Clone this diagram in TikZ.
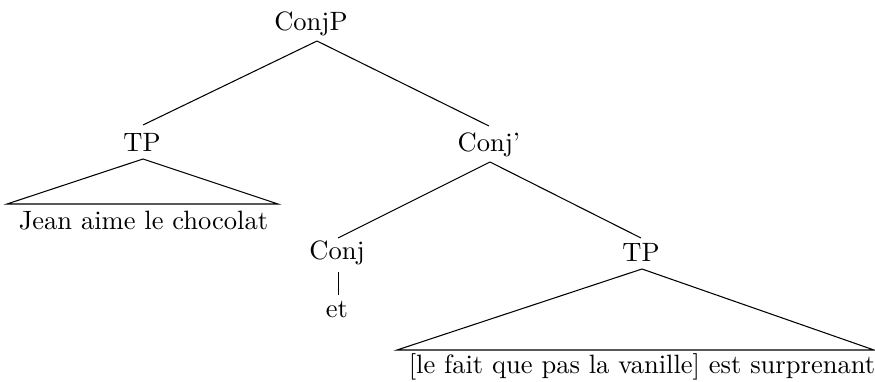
\documentclass[tikz,border=0pt]{standalone}
\begin{document}
\begin{tikzpicture}[x=0.377pt,y=-0.377pt,
  lbl/.style={anchor=base,inner sep=0pt},
  branch/.style={draw=black,line width=0.4pt}]
\useasboundingbox (0,0) rectangle (875,381);
% labels
\node[lbl] (conjp) at (311,31) {ConjP};
\node[lbl] (tp1) at (142,151) {TP};
\node[lbl] (conjbar) at (489,151) {Conj'};
\node[lbl] (jean) at (143.5,229) {Jean aime le chocolat};
\node[lbl] (conj) at (337,259) {Conj};
\node[lbl] (et) at (337,317) {et};
\node[lbl] (tp2) at (641,261) {TP};
\node[lbl] (fait) at (642,373) {[le fait que pas la vanille] est surprenant};
% attachment points
\coordinate (conjp-b) at (317,41);
\coordinate (tp1-t) at (143,125);
\coordinate (conjbar-t) at (489,126);
\coordinate (tp1-b) at (143,159);
\coordinate (tri1-l) at (7,204);
\coordinate (tri1-r) at (278,204);
\coordinate (conjbar-b) at (490,162);
\coordinate (conj-t) at (338,238);
\coordinate (tp2-t) at (641,238);
\coordinate (conj-b) at (338.5,272);
\coordinate (et-t) at (338.5,295);
\coordinate (tp2-b) at (642,269);
\coordinate (tri2-l) at (397,350);
\coordinate (tri2-r) at (874,350);
% branches
\draw[branch] (conjp-b) -- (tp1-t);
\draw[branch] (conjp-b) -- (conjbar-t);
\draw[branch] (tp1-b) -- (tri1-l) -- (tri1-r) -- cycle;
\draw[branch] (conjbar-b) -- (conj-t);
\draw[branch] (conjbar-b) -- (tp2-t);
\draw[branch] (conj-b) -- (et-t);
\draw[branch] (tp2-b) -- (tri2-l) -- (tri2-r) -- cycle;
\end{tikzpicture}
\end{document}
